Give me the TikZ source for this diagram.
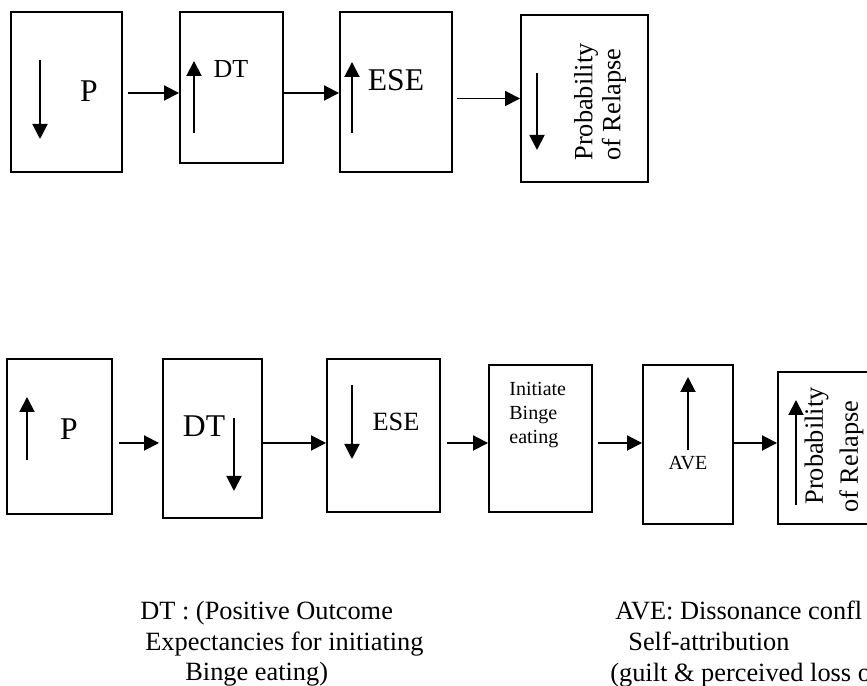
\documentclass[tikz,border=0pt]{standalone}
\usepackage{fontspec}
\setmainfont{Liberation Serif}
\usetikzlibrary{arrows.meta}

\begin{document}
\begin{tikzpicture}[
  box/.style={draw, line width=1.1pt, inner sep=0pt},
  arr/.style={-{Triangle[length=0.3cm, width=0.3cm]}, line width=1.1pt},
  big/.style={font=\fontsize{18}{21}\selectfont, inner sep=0pt},
  mid/.style={font=\fontsize{15}{18}\selectfont, inner sep=0pt},
  small/.style={font=\fontsize{11.4}{13.7}\selectfont, inner sep=0pt},
  vlbl/.style={rotate=90, align=left, inner sep=0pt},
  note/.style={font=\fontsize{15}{17.4}\selectfont, align=left, anchor=north west, inner sep=0pt},
]
\clip (0,0) rectangle (17.34,13.72);

% --- Top chain ---
\node[box, minimum width=2.22cm, minimum height=3.2cm]  (p1)  at (1.33,11.88) {};
\node[box, minimum width=2.06cm, minimum height=3.02cm] (dt1) at (4.63,11.97) {};
\node[box, minimum width=2.24cm, minimum height=3.2cm]  (ese1) at (7.92,11.88) {};
\node[box, minimum width=2.54cm, minimum height=3.34cm] (pr1) at (11.69,11.75) {};

\node[big] (p1t) at (1.78,11.9) {P};
\node[mid, font=\fontsize{14.8}{17}\selectfont] (dt1t) at (4.62,12.34) {DT};
\node[big] (ese1t) at (7.92,12.12) {ESE};
\node[vlbl, font=\fontsize{15}{16}\selectfont] (pr1t) at (12.0,11.68) {Probability\\of Relapse};

% inner arrows
\coordinate (p1a) at (0.8,12.52);    \coordinate (p1b) at (0.8,10.94);
\coordinate (dt1a) at (3.88,11.06);  \coordinate (dt1b) at (3.88,12.5);
\coordinate (ese1a) at (7.04,11.06); \coordinate (ese1b) at (7.04,12.48);
\coordinate (pr1a) at (10.74,12.26); \coordinate (pr1b) at (10.74,10.72);
\draw[arr] (p1a) -- (p1b);
\draw[arr] (dt1a) -- (dt1b);
\draw[arr] (ese1a) -- (ese1b);
\draw[arr] (pr1a) -- (pr1b);

% links
\coordinate (row1) at (0,11.86);
\draw[arr, shorten <=0.1cm] (p1.east |- row1) -- (dt1.west |- row1);
\draw[arr] (dt1.east |- row1) -- (ese1.west |- row1);
\draw[arr, shorten <=0.08cm] (ese1.east |- pr1.west) -- (pr1.west);

% --- Bottom chain ---
\node[box, minimum width=2.1cm, minimum height=3.1cm]   (p2)   at (1.19,4.99) {};
\node[box, minimum width=1.98cm, minimum height=3.18cm] (dt2)  at (4.25,4.95) {};
\node[box, minimum width=2.26cm, minimum height=3.06cm] (ese2) at (7.67,5.01) {};
\node[box, minimum width=2.06cm, minimum height=2.94cm] (in2)  at (10.81,4.95) {};
\node[box, minimum width=1.8cm, minimum height=3.18cm]  (ave2) at (13.76,4.83) {};
\node[box, minimum width=2.5cm, minimum height=3.04cm]  (pr2)  at (16.81,4.76) {};

\node[big] (p2t) at (1.38,5.14) {P};
\node[big] (dt2t) at (4.08,5.2) {DT};
\node[mid] (ese2t) at (7.92,5.28) {ESE};
\node[small, align=left, anchor=north west] (in2t) at (10.18,6.08) {Initiate\\Binge\\eating};
\node[small] (ave2t) at (13.76,4.46) {AVE};
\node[vlbl, font=\fontsize{15}{20}\selectfont] (pr2t) at (16.68,4.8) {Probability\\\hspace*{-0.16cm}of Relapse};

% inner arrows
\coordinate (p2a) at (0.54,4.52);    \coordinate (p2b) at (0.54,5.78);
\coordinate (dt2a) at (4.68,5.36);   \coordinate (dt2b) at (4.68,3.9);
\coordinate (ese2a) at (7.04,6.02);  \coordinate (ese2b) at (7.04,4.54);
\coordinate (ave2a) at (13.76,4.72); \coordinate (ave2b) at (13.76,6.18);
\coordinate (pr2a) at (15.92,3.62);  \coordinate (pr2b) at (15.92,5.72);
\draw[arr] (p2a) -- (p2b);
\draw[arr] (dt2a) -- (dt2b);
\draw[arr] (ese2a) -- (ese2b);
\draw[arr] (ave2a) -- (ave2b);
\draw[arr] (pr2a) -- (pr2b);

% links
\coordinate (row2) at (0,4.86);
\draw[arr, shorten <=0.12cm, shorten >=0.06cm] (p2.east |- row2) -- (dt2.west |- row2);
\draw[arr] (dt2.east |- row2) -- (ese2.west |- row2);
\draw[arr, shorten <=0.12cm] (ese2.east |- row2) -- (in2.west |- row2);
\draw[arr, shorten <=0.1cm] (in2.east |- row2) -- (ave2.west |- row2);
\draw[arr] (ave2.east |- row2) -- (pr2.west |- row2);

% --- Legend ---
\node[note] (dtnote) at (2.8,1.7) {DT : (Positive Outcome\\\hspace*{0.1cm}Expectancies for initiating\\\hspace*{0.9cm}Binge eating)};
\node[note] (avenote) at (12.2,1.7) {\hspace*{0.1cm}AVE: Dissonance confl\\\hspace*{0.36cm}Self-attribution\\(guilt \& perceived loss o};
\end{tikzpicture}
\end{document}
